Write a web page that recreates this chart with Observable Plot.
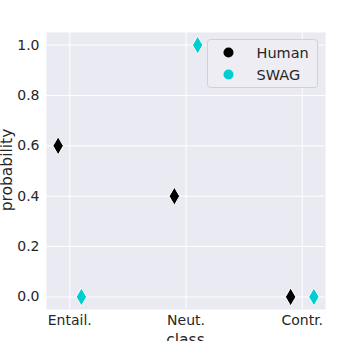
<!DOCTYPE html>
<html>
<head>
<meta charset="utf-8">
<script src="https://cdn.jsdelivr.net/npm/d3@7"></script>
<script src="https://cdn.jsdelivr.net/npm/@observablehq/plot@0.6"></script>
<style>
  html, body { margin: 0; padding: 0; background: white; overflow: hidden; }
  #chart { width: 352px; height: 341px; }
</style>
</head>
<body>
<div id="chart"></div>
<script>
const classes = ["Entail.", "Neut.", "Contr."];
const series = ["Human", "SWAG"];
const humanValues = [0.6, 0.4, 0.0];
const swagValues = [0.0, 1.0, 0.0];
const yTicks = [0.0, 0.2, 0.4, 0.6, 0.8, 1.0];
const colors = ["#000000", "#00CED1"];

const dodge = {Human: -0.1, SWAG: 0.1};
const data = [];
classes.forEach((c, i) => {
  data.push({cls: c, idx: i, series: "Human", value: humanValues[i]});
  data.push({cls: c, idx: i, series: "SWAG", value: swagValues[i]});
});

// thin diamond (matplotlib "d")
const thinDiamond = {
  draw(context, size) {
    const s = Math.sqrt(size / Math.PI);
    const h = s, w = s * 0.58;
    context.moveTo(0, -h);
    context.lineTo(w, 0);
    context.lineTo(0, h);
    context.lineTo(-w, 0);
    context.closePath();
  }
};

const W = 352, H = 341;
const plot = Plot.plot({
  width: W,
  height: H,
  marginLeft: 46,
  marginRight: 27,
  marginTop: 32,
  marginBottom: 32,
  style: {fontFamily: "DejaVu Sans", fontSize: "14px", color: "#262626", background: "white"},
  x: {domain: [-0.2, 2.2], axis: null},
  y: {domain: [-0.05, 1.05], axis: null},
  color: {domain: series, range: colors},
  marks: [
    Plot.frame({fill: "#EAEAF2", stroke: null}),
    Plot.gridX([0, 1, 2], {stroke: "white", strokeOpacity: 1, strokeWidth: 1}),
    Plot.gridY(yTicks, {stroke: "white", strokeOpacity: 1, strokeWidth: 1}),
    Plot.axisX([0, 1, 2], {tickSize: 0, tickPadding: 6, tickFormat: i => classes[i], label: null, fontSize: 14, fill: "#262626"}),
    Plot.axisY(yTicks, {tickSize: 0, tickPadding: 7, tickFormat: d3.format(".1f"), label: null, fontSize: 14, fill: "#262626"}),
    Plot.dot(data, {
      x: d => d.idx + dodge[d.series],
      y: "value",
      fill: "series",
      stroke: "white",
      strokeWidth: 1,
      r: 9,
      symbol: thinDiamond
    })
  ]
});

const svg = d3.select(plot);
// axis labels
svg.append("text")
  .attr("transform", "translate(12,170) rotate(-90)")
  .attr("text-anchor", "middle")
  .attr("font-family", "DejaVu Sans")
  .attr("font-size", 15.5)
  .attr("fill", "#262626")
  .text("probability");
svg.append("text")
  .attr("x", 185.5)
  .attr("y", 345)
  .attr("text-anchor", "middle")
  .attr("font-family", "DejaVu Sans")
  .attr("font-size", 15.5)
  .attr("fill", "#262626")
  .text("class");

// legend
const lg = svg.append("g").attr("transform", "translate(207.5,39.5)");
lg.append("rect")
  .attr("width", 110).attr("height", 48).attr("rx", 3)
  .attr("fill", "#EDEDF3").attr("fill-opacity", 0.9)
  .attr("stroke", "#D0D0D8").attr("stroke-width", 1);
series.forEach((s, i) => {
  const y = 13 + i * 22;
  lg.append("circle").attr("cx", 21).attr("cy", y).attr("r", 5).attr("fill", colors[i]);
  lg.append("text").attr("x", 49).attr("y", y).attr("dy", "0.35em")
    .attr("text-anchor", "start")
    .attr("font-family", "DejaVu Sans").attr("font-size", 14.5).attr("fill", "#262626")
    .text(s);
});

document.getElementById("chart").appendChild(plot);
</script>
</body>
</html>
